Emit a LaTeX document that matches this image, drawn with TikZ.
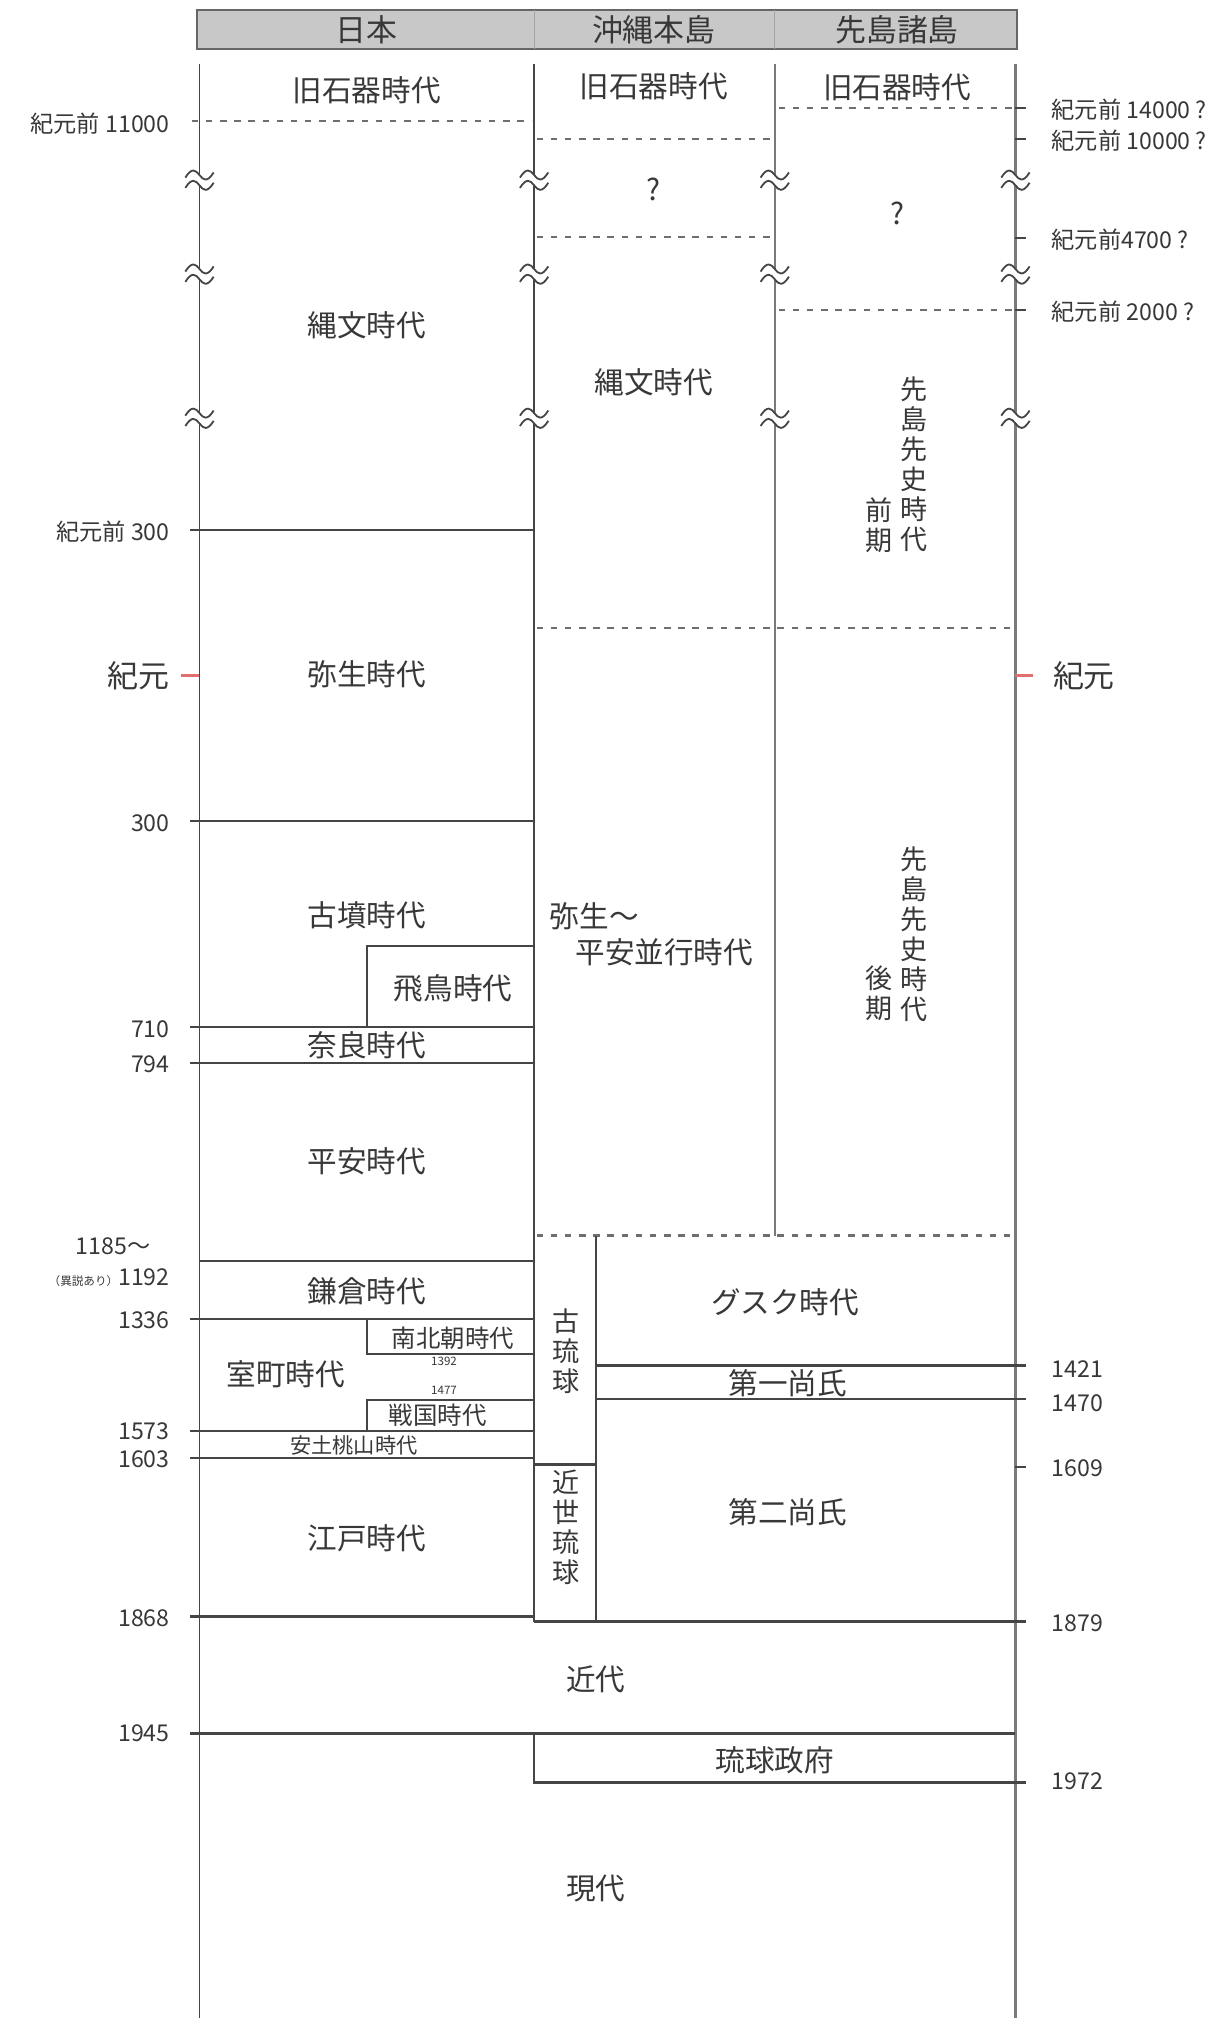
\documentclass[tikz,border=0pt]{standalone}
\usepackage{fontspec}
\setmainfont{Noto Sans CJK JP}
\definecolor{lc}{HTML}{454545}
\definecolor{lc2}{HTML}{7A7A7A}
\definecolor{dc}{HTML}{6E6E6E}
\definecolor{tc}{HTML}{383838}
\definecolor{hdr}{HTML}{C8C8C8}
\definecolor{hdrb}{HTML}{666666}
\definecolor{redt}{HTML}{E07070}
\begin{document}
\begin{tikzpicture}[x=1pt,y=-1pt,
  ln/.style={line width=1.8pt, draw=lc},
  vln/.style={line width=1.5pt, draw=lc},
  vln2/.style={line width=1.8pt, draw=lc2},
  dsh/.style={line width=1.9pt, draw=dc, dash pattern=on 5pt off 6pt},
  lab/.style={text=tc, inner sep=0pt, font=\fontsize{23}{25}\selectfont},
  hlab/.style={text=tc, inner sep=0pt, font=\fontsize{24}{26}\selectfont},
  num/.style={text=tc, inner sep=0pt, font=\fontsize{18}{20}\selectfont},
  big/.style={text=tc, inner sep=0pt, font=\fontsize{24}{26}\selectfont},
  mid/.style={text=tc, inner sep=0pt, font=\fontsize{19}{21}\selectfont},
  sml/.style={text=tc, inner sep=0pt, font=\fontsize{16.5}{18}\selectfont},
  tiny/.style={text=tc, inner sep=0pt, font=\fontsize{9}{10}\selectfont},
  vert/.style={text=tc, inner sep=0pt, align=center, font=\fontsize{21}{23.3}\selectfont},
  brk/.pic={
    \fill[white] (-3,-4) rectangle (3,4);
    \draw[lc, line width=1.4pt] (-11,-2) .. controls (-6,-10) and (-3,-8) .. (0,-4) .. controls (3,0) and (6,2) .. (11,-6);
    \draw[lc, line width=1.4pt] (-11,6) .. controls (-6,-2) and (-3,0) .. (0,4) .. controls (3,8) and (6,10) .. (11,2);
  }
]
\useasboundingbox (0,0) rectangle (950,1568);
\fill[white] (0,0) rectangle (950,1568);

% header
\draw[fill=hdr, draw=hdrb, line width=1.6pt] (153,8) rectangle (790,38);
\draw[draw=hdrb!60, line width=0.9pt] (415,8) -- (415,38) (602,8) -- (602,38);
\node[hlab] (hJ) at (285,23) {日本};
\node[hlab] (hO) at (508,23) {沖縄本島};
\node[hlab] (hS) at (697,23) {先島諸島};

% vertical lines
\draw[vln] (155,50) -- (155,1568);
\draw[vln] (415,50) -- (415,1260);
\draw[vln2] (602,50) -- (602,960);
\draw[vln2] (789,50) -- (789,1568);

% dashed lines
\draw[dsh] (149,94) -- (413,94);
\draw[dsh] (417,108) -- (598,108);
\draw[dsh] (417,184) -- (598,184);
\draw[dsh] (605,84) -- (787,84);
\draw[dsh] (605,241) -- (787,241);
\draw[dsh] (417,488) -- (787,488);
\draw[dsh] (417,960) -- (787,960);

% right ticks
\draw[ln] (789,84) -- (797,84) (789,108) -- (797,108) (789,185) -- (797,185) (789,241) -- (797,241);
\draw[ln] (789,1140) -- (797,1140);

% red ticks
\draw[redt, line width=2.2pt] (141,525) -- (155,525);
\draw[redt, line width=2.2pt] (789,525) -- (803,525);

% break marks
\foreach \yy in {140,213,325}{
  \foreach \xx in {155,415,602,789}{
    \pic at (\xx,\yy) {brk};
  }
}

% Japan solid lines
\draw[ln] (148,412) -- (415,412);
\draw[ln] (148,638) -- (415,638);
\draw[ln] (285,798) -- (285,735) -- (415,735);
\draw[ln] (148,798) -- (415,798);
\draw[ln] (148,826) -- (415,826);
\draw[ln] (155,980) -- (415,980);
\draw[ln] (148,1025) -- (415,1025);
\draw[ln] (285,1025) -- (285,1052) -- (415,1052);
\draw[ln] (285,1112) -- (285,1088) -- (415,1088);
\draw[ln] (148,1112) -- (415,1112);
\draw[ln] (148,1133) -- (415,1133);
\draw[ln] (148,1256) -- (415,1256);

% Ryukyu lines
\draw[ln] (463,960) -- (463,1260);
\draw[ln] (415,1138) -- (463,1138);
\draw[ln] (463,1061) -- (797,1061);
\draw[ln] (463,1087) -- (797,1087);
\draw[ln] (415,1260) -- (797,1260);
\draw[ln] (148,1347) -- (789,1347);
\draw[ln] (415,1347) -- (415,1385) -- (797,1385);

% period labels
\node[lab] (kJ) at (285,70) {旧石器時代};
\node[lab] (kO) at (508,67) {旧石器時代};
\node[lab] (kS) at (697,68) {旧石器時代};
\node[lab] (qO) at (508,147) {?};
\node[lab] (qS) at (697,166) {?};
\node[lab] (jJ) at (285,253) {縄文時代};
\node[lab] (jO) at (508,297) {縄文時代};
\node[vert] (sz1) at (710,361) {先\\島\\先\\史\\時\\代};
\node[vert] (sz2) at (683,408) {前\\期};
\node[vert] (sk1) at (710,726) {先\\島\\先\\史\\時\\代};
\node[vert] (sk2) at (683,772) {後\\期};
\node[lab] (yJ) at (285,524) {弥生時代};
\node[lab] (kf) at (285,711) {古墳時代};
\node[lab] (as) at (352,768) {飛鳥時代};
\node[lab] (nr) at (285,812) {奈良時代};
\node[lab] (hn) at (285,902) {平安時代};
\node[lab, anchor=west] (yh1) at (427,712) {弥生～};
\node[lab, anchor=west] (yh2) at (447,740) {平安並行時代};
\node[lab] (km) at (285,1003) {鎌倉時代};
\node[mid] (nb) at (352,1040) {南北朝時代};
\node[tiny] (n1392) at (345,1058) {1392};
\node[lab] (mm) at (222,1068) {室町時代};
\node[tiny] (n1477) at (345,1080) {1477};
\node[mid] (sg) at (340,1100) {戦国時代};
\node[sml] (az) at (275,1123) {安土桃山時代};
\node[lab] (ed) at (285,1195) {江戸時代};
\node[vert] (kr) at (440,1050) {古\\琉\\球};
\node[vert] (kir) at (440,1187) {近\\世\\琉\\球};
\node[lab] (gs) at (610,1012) {グスク時代};
\node[lab] (d1) at (612,1075) {第一尚氏};
\node[lab] (d2) at (612,1175) {第二尚氏};
\node[lab] (kd) at (463,1305) {近代};
\node[lab] (rg) at (602,1368) {琉球政府};
\node[lab] (gd) at (463,1467) {現代};

% left year labels
\node[num, anchor=east] (l1) at (132,96) {紀元前 11000};
\node[num, anchor=east] (l2) at (132,413) {紀元前 300};
\node[big, anchor=east] (l3) at (132,525) {紀元};
\node[num, anchor=east] (l4) at (132,640) {300};
\node[num, anchor=east] (l5) at (132,800) {710};
\node[num, anchor=east] (l6) at (132,827) {794};
\node[num, anchor=east] (l7) at (117,968) {1185～};
\node[num, anchor=east] (l8) at (132,993) {{\fontsize{9}{10}\selectfont （異説あり）}1192};
\node[num, anchor=east] (l9) at (132,1026) {1336};
\node[num, anchor=east] (l10) at (132,1112) {1573};
\node[num, anchor=east] (l11) at (132,1134) {1603};
\node[num, anchor=east] (l12) at (132,1257) {1868};
\node[num, anchor=east] (l13) at (132,1347) {1945};

% right year labels
\node[num, anchor=west] (r1) at (817,85) {紀元前 14000 ?};
\node[num, anchor=west] (r2) at (817,109) {紀元前 10000 ?};
\node[num, anchor=west] (r3) at (817,186) {紀元前4700 ?};
\node[num, anchor=west] (r4) at (817,242) {紀元前 2000 ?};
\node[big, anchor=west] (r5) at (818,525) {紀元};
\node[num, anchor=west] (r6) at (817,1064) {1421};
\node[num, anchor=west] (r7) at (817,1090) {1470};
\node[num, anchor=west] (r8) at (817,1141) {1609};
\node[num, anchor=west] (r9) at (817,1261) {1879};
\node[num, anchor=west] (r10) at (817,1384) {1972};
\end{tikzpicture}
\end{document}
